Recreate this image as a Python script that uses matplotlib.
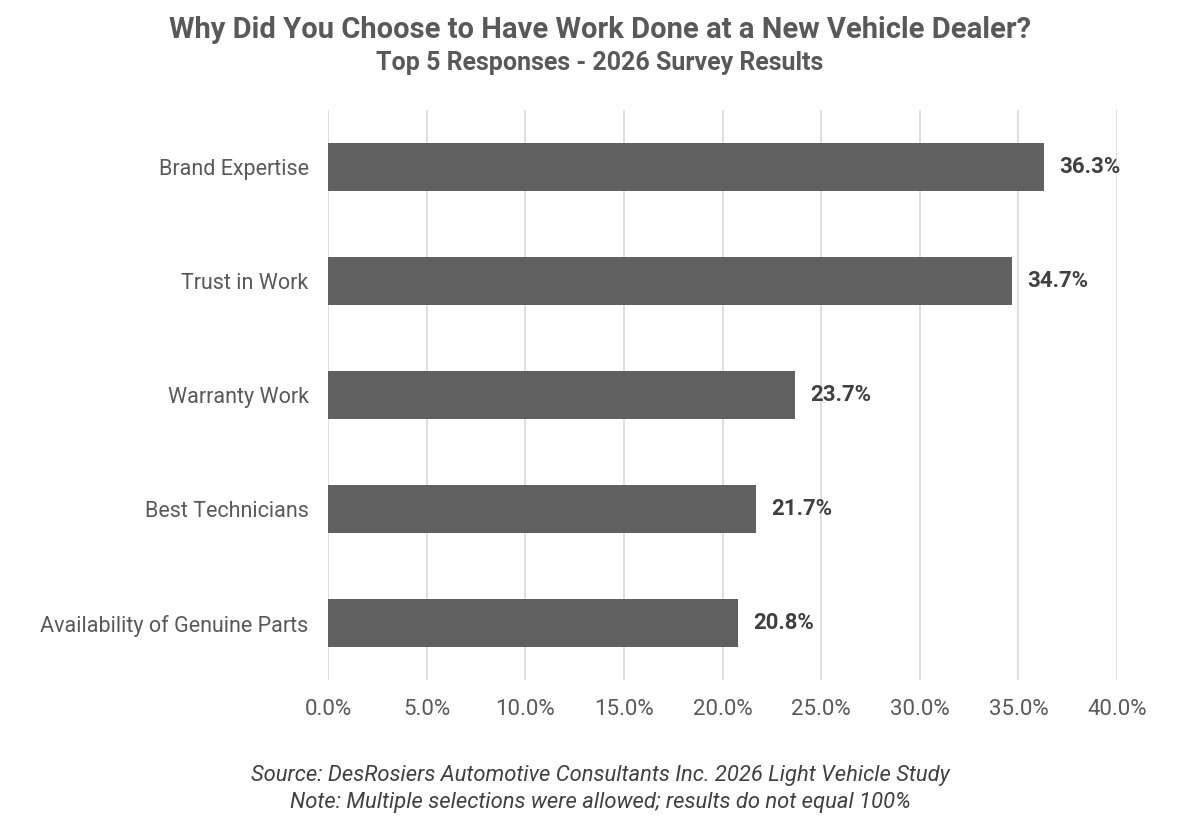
import matplotlib
matplotlib.use("Agg")
import matplotlib.pyplot as plt
from matplotlib.ticker import FuncFormatter, MultipleLocator

categories = ["Brand Expertise", "Trust in Work", "Warranty Work",
              "Best Technicians", "Availability of Genuine Parts"]
values = [36.3, 34.7, 23.7, 21.7, 20.8]

plt.rcParams['font.family'] = ['Roboto', 'DejaVu Sans']

fig = plt.figure(figsize=(12, 8.3), dpi=100)
ax = fig.add_axes([328/1200, 1-680/830, (1117-328)/1200, (680-110)/830])

y = list(range(len(categories)))
ax.barh(y, values, height=0.42, color='#606060', zorder=3)
ax.set_ylim(len(categories)-0.5, -0.5)
ax.set_xlim(0, 40)
ax.xaxis.set_major_locator(MultipleLocator(5))
ax.xaxis.set_major_formatter(FuncFormatter(lambda v, p: f"{v:.1f}%"))
ax.set_yticks(y)
ax.set_yticklabels(categories)
ax.grid(axis='x', color='#d9d9d9', linewidth=1.2, zorder=0)
for s in ax.spines.values():
    s.set_visible(False)
ax.tick_params(axis='y', length=0, labelsize=15.5, colors='#595959', pad=14)
ax.tick_params(axis='x', length=0, labelsize=16, colors='#595959', pad=14)

for yi, v in zip(y, values):
    ax.text(v + 0.75, yi, f"{v:.1f}%", va='center', ha='left',
            fontsize=16, fontweight='bold', color='#404040', zorder=4)

fig.text(0.5, 1-30/830, "Why Did You Choose to Have Work Done at a New Vehicle Dealer?",
         ha='center', va='center', fontsize=21, fontweight='bold', color='#595959')
fig.text(0.5, 1-63/830, "Top 5 Responses - 2026 Survey Results",
         ha='center', va='center', fontsize=18, fontweight='bold', color='#595959')
fig.text(0.5, 1-775/830, "Source: DesRosiers Automotive Consultants Inc. 2026 Light Vehicle Study",
         ha='center', va='center', fontsize=15.8, style='italic', color='#404040')
fig.text(0.5, 1-802/830, "Note: Multiple selections were allowed; results do not equal 100%",
         ha='center', va='center', fontsize=15.8, style='italic', color='#404040')

fig.savefig("out.png", dpi=100, facecolor='white')
